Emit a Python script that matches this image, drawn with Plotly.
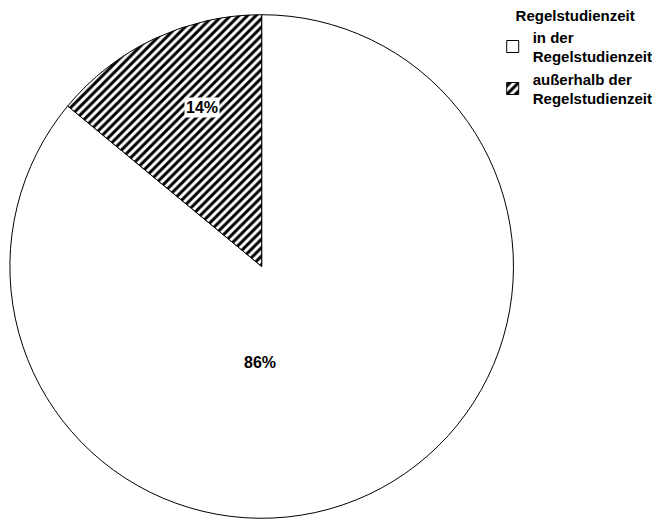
import plotly.graph_objects as go

categories = ["in der<br>Regelstudienzeit", "außerhalb der<br>Regelstudienzeit"]
values = [86, 14]
legend_title = "Regelstudienzeit"

W, H = 658, 521
cx_px, cy_px, r_px = 264.5, 266.5, 254.5
# label anchor points (pixels) for each slice's percentage text
label_pos_px = [(263, 362), (204, 107)]


def clamp(v):
    return max(0.0, min(1.0, v))


fig = go.Figure(go.Pie(
    labels=[f"<b>{c}</b>" for c in categories],
    values=values,
    sort=False,
    direction="clockwise",
    rotation=0,
    textinfo="none",
    hoverinfo="label+percent",
    marker=dict(
        colors=["white", "white"],
        line=dict(color="black", width=1),
        pattern=dict(shape=["", "/"], fgcolor="black", bgcolor="white",
                     size=6, solidity=0.5),
    ),
    domain=dict(x=[clamp((cx_px - r_px) / W), clamp((cx_px + r_px) / W)],
                y=[clamp(1 - (cy_px + r_px) / H), clamp(1 - (cy_px - r_px) / H)]),
))

total = sum(values)
annotations = []
for i, (v, (x, y)) in enumerate(zip(values, label_pos_px)):
    annotations.append(dict(
        x=x / W, y=1 - y / H, xref="paper", yref="paper",
        xanchor="center", yanchor="middle",
        text=f"<b>{round(100 * v / total)}%</b>", showarrow=False,
        font=dict(family="Liberation Sans, Arial", size=16, color="black"),
        bgcolor="white" if i == 1 else "rgba(0,0,0,0)",
        borderpad=1,
    ))

fig.update_layout(
    width=W, height=H,
    margin=dict(l=0, r=0, t=0, b=0),
    paper_bgcolor="white",
    plot_bgcolor="white",
    font=dict(family="Liberation Sans, Arial", size=15, color="black"),
    annotations=annotations,
    showlegend=True,
    legend=dict(
        x=498 / W, y=1 - 1 / H, xanchor="left", yanchor="top",
        title=dict(text=f"<b>{legend_title}</b>", side="top center",
                   font=dict(size=15)),
        font=dict(size=15, family="Liberation Sans, Arial"),
        itemwidth=30,
        tracegroupgap=0,
        bgcolor="rgba(0,0,0,0)",
    ),
)

fig.write_html("out.html")
